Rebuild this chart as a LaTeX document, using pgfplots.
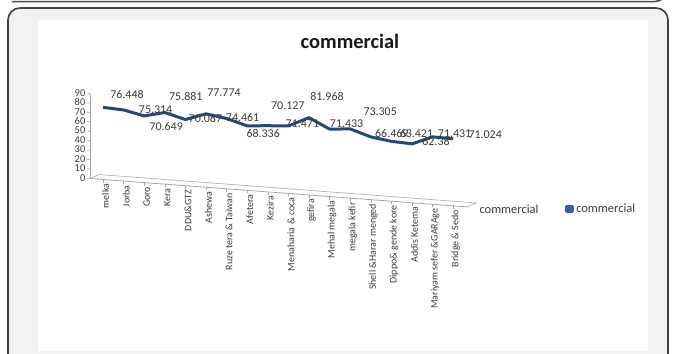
\documentclass[border=0pt]{standalone}
\usepackage{pgfplots}
\pgfplotsset{compat=1.18}
\usepackage{pgfplotstable}
\usetikzlibrary{backgrounds}
\usepackage{fontspec}
\setmainfont{Carlito}
\definecolor{linecol}{RGB}{36,72,122}
\definecolor{legcol}{RGB}{54,96,165}
\definecolor{bggray}{RGB}{241,242,244}
\definecolor{txtgray}{RGB}{60,60,60}

\pgfplotstableread{
x y dx dy lab
0 76.448 24 13 76.448
1 75.314 32 0 75.314
2 70.649 22 -11 70.649
3 75.881 21 16 75.881
4 70.087 20 1 70.087
5 77.774 18 21 77.774
6 74.461 16 1 74.461
7 68.336 16 -8 68.336
8 70.127 20 20 70.127
9 71.471 14 2 71.471
10 81.968 18 21 81.968
11 71.433 17 5 71.433
12 73.305 30 17 73.305
13 66.469 21 3 66.469
14 63.421 25 8 63.421
15 62.38 24 2 62.38
16 71.431 22 3 71.431
17 71.024 32 4 71.024
}\datatable

\begin{document}
\begin{tikzpicture}
\begin{axis}[
  x={(20.6bp,-1.55bp)}, y={(0bp,0.944bp)},
  xmin=-0.63, xmax=17.67, ymin=0, ymax=90,
  clip=false,
  axis lines=left,
  axis line style={-, draw=gray!70, line width=0.8bp},
  tick style={draw=gray!70, line width=0.6bp},
  major tick length=3bp,
  tick align=outside,
  ytick={0,10,...,90},
  xtick={0,...,17},
  xticklabels={melka,Jorba,Goro,Kera,DDU\&GTZ,Ashewa,Ruze tera \& Taiwan,Afetera,Kezira,Menaharia \& coca,gefira,Mehal megala,megala kefir,Shell \&Harar menged,Dippo\& gende kore,Addis Ketema,Mariyam sefer \&GARAge,Bridge \& Sedo},
  x tick label style={rotate=90, anchor=east, font=\fontsize{10}{10}\selectfont, text=txtgray, inner sep=1bp, yshift=-2.5bp},
  y tick label style={font=\fontsize{10.5}{11}\selectfont, text=txtgray, inner sep=1.5bp},
  /pgf/number format/assume math mode=true,
  legend style={at={(axis cs:22.43,5.3)}, anchor=west, draw=none, fill=none, inner sep=0pt,
    font=\fontsize{12.5}{13}\selectfont, text=txtgray,
    legend cell align=left},
  legend image code/.code={\fill[legcol] (0bp,-2.5bp) rectangle (6bp,2.5bp);},
]
\coordinate (O) at (axis cs:0,0);
% back edge of floor
\draw[gray!60, line width=0.7bp] (axis cs:-0.63,0) -- ++(9bp,4bp) coordinate (b0);
\draw[gray!60, line width=0.7bp] (b0) -- ([shift={(9bp,4bp)}]axis cs:17.67,0) -- (axis cs:17.67,0);
\addplot[linecol, line width=3bp, mark=none, line join=round,
  nodes near coords, point meta=explicit symbolic,
  visualization depends on={\thisrow{dx}\as\dx},
  visualization depends on={\thisrow{dy}\as\dy},
  every node near coord/.append style={anchor=center, xshift=\dx bp, yshift=\dy bp,
    font=\fontsize{12}{13}\selectfont, text=txtgray, inner sep=0pt}]
  table[x=x, y=y, meta=lab] {\datatable};
\addlegendentry{commercial}
\node[anchor=west, font=\fontsize{12.5}{13}\selectfont, text=txtgray] at ([shift={(9bp,-2bp)}]axis cs:17.67,0) {commercial};
\end{axis}
\pgfresetboundingbox
\begin{scope}[shift={(O)}]
\begin{scope}[x=1bp, y=-1bp, shift={(-103,-179.5)}]
\path[use as bounding box] (0,0) rectangle (673,353);
\node[font=\fontsize{20.5}{22}\selectfont\bfseries, text=black!90] at (350,41) {commercial};
\begin{scope}[on background layer]
\fill[white] (0,0) rectangle (673,353);
\draw[black!70, line width=1.5bp] (12,1.5) -- (655,1.5) to[out=0,in=-110] (668,-10);
\draw[rounded corners=12bp, fill=bggray, draw=black!75, line width=1.6bp]
  (8,380) -- (8,8) -- (668,8) -- (668,380);
\fill[white] (38,20) rectangle (648,351);
\end{scope}
\end{scope}
\end{scope}
\end{tikzpicture}
\end{document}
